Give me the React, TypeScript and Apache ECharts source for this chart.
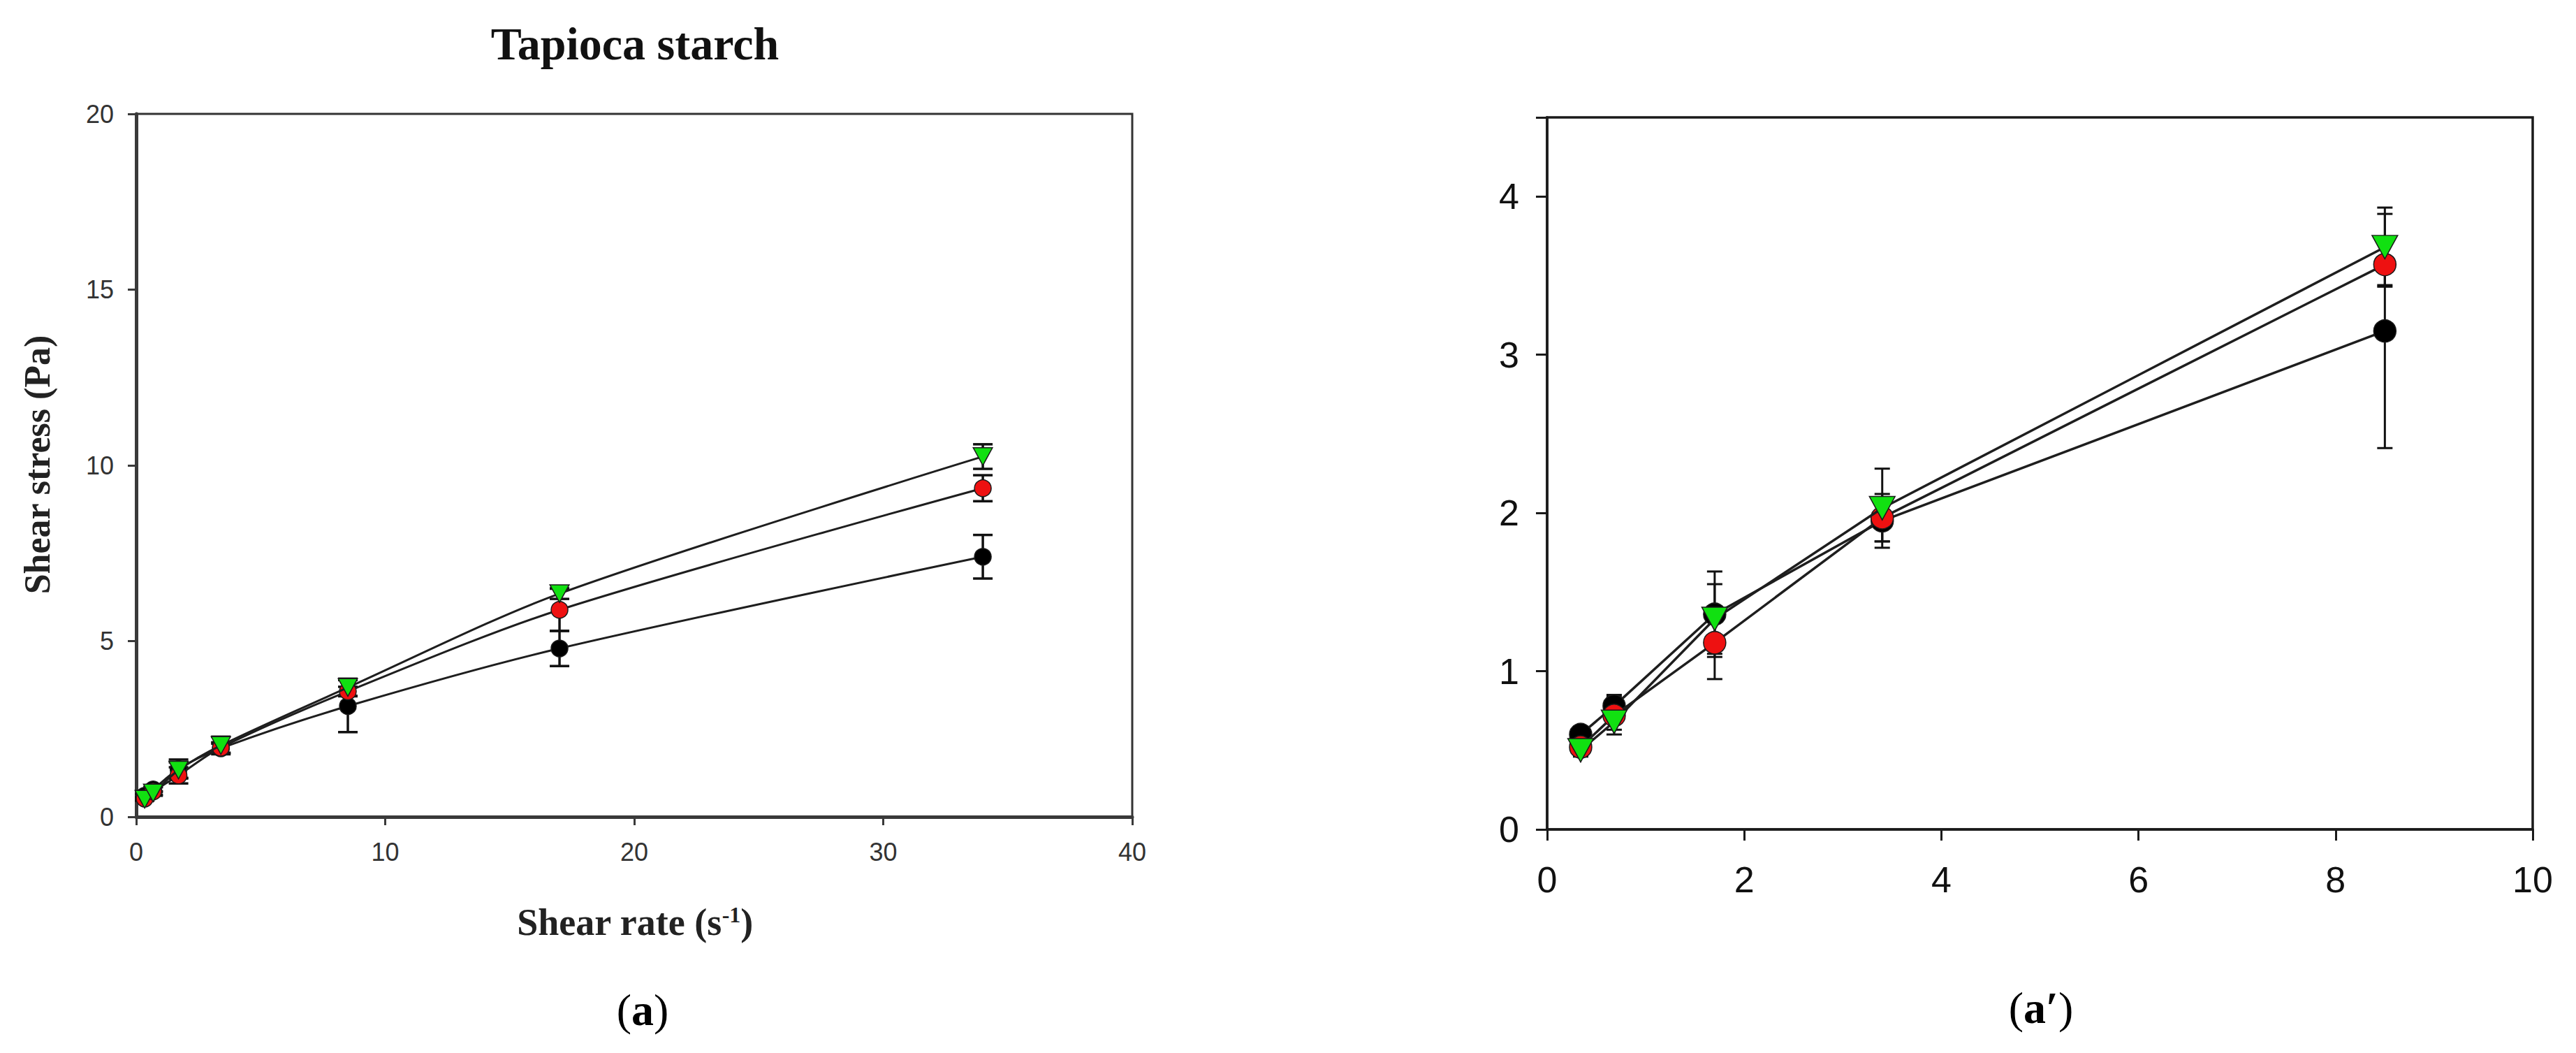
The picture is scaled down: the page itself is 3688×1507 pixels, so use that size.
import React, { useEffect, useRef } from "react";
import * as echarts from "echarts";

// Shear rate (s^-1)
const shearRate = [0.34, 0.68, 1.7, 3.4, 8.5, 17, 34];
// Shear stress (Pa) — three samples (black, red, green)
const stressBlack = [0.6, 0.78, 1.36, 1.95, 3.15, 4.79, 7.4];
const stressRed = [0.52, 0.72, 1.18, 1.97, 3.57, 5.89, 9.35];
const stressGreen = [0.5, 0.68, 1.33, 2.03, 3.68, 6.35, 10.25];
// Error bars (± Pa)
const errBlack = [0.05, 0.07, 0.27, 0.13, 0.74, 0.5, 0.62];
const errRed = [0.05, 0.12, 0.23, 0.15, 0.13, 0.6, 0.37];
const errGreen = [0.04, 0.05, 0.22, 0.25, 0.25, 0.15, 0.35];

// Axis ticks
const leftXTicks = { min: 0, max: 40, interval: 10 };
const leftYTicks = { min: 0, max: 20, interval: 5 };
const rightXTicks = { min: 0, max: 10, interval: 2 };
const rightYTicks = { min: 0, max: 4.5, interval: 1 };

const titleText = "Tapioca starch";
const xTitle = "Shear rate (s{sup|-1})";
const yTitle = "Shear stress (Pa)";

const SERIF = "'Liberation Serif', 'Times New Roman', serif";
const SANS = "'Liberation Sans', Arial, sans-serif";

type Sample = { ys: number[]; errs: number[]; color: string; symbol: string; size: any; rotate: number };
const samples: Sample[] = [
  { ys: stressBlack, errs: errBlack, color: "#000000", symbol: "circle", size: 0, rotate: 0 },
  { ys: stressRed, errs: errRed, color: "#ee1111", symbol: "circle", size: 0, rotate: 0 },
  { ys: stressGreen, errs: errGreen, color: "#11e011", symbol: "triangle", size: 0, rotate: 180 },
];

function buildSeries(gridIdx: number, xMax: number, marker: number, lineW: number, capHalf: number, smooth: number | boolean) {
  const idx = shearRate.map((_, i) => i).filter((i) => shearRate[i] <= xMax);
  const out: any[] = [];
  samples.forEach((s, k) => {
    out.push({
      type: "custom",
      xAxisIndex: gridIdx,
      yAxisIndex: gridIdx,
      z: 2,
      encode: { x: 0, y: 1 },
      data: idx.map((i) => [shearRate[i], s.ys[i], s.errs[i]]),
      renderItem: (params: any, api: any) => {
        const x = api.value(0);
        const y = api.value(1);
        const e = api.value(2);
        const t = api.coord([x, y + e]);
        const b = api.coord([x, y - e]);
        const st = { stroke: "#111", lineWidth: gridIdx === 0 ? 3.5 : 3 };
        return {
          type: "group",
          children: [
            { type: "line", shape: { x1: t[0], y1: t[1], x2: b[0], y2: b[1] }, style: st },
            { type: "line", shape: { x1: t[0] - capHalf, y1: t[1], x2: t[0] + capHalf, y2: t[1] }, style: st },
            { type: "line", shape: { x1: b[0] - capHalf, y1: b[1], x2: b[0] + capHalf, y2: b[1] }, style: st },
          ],
        };
      },
    });
    const isTri = s.symbol === "triangle";
    out.push({
      type: "line",
      xAxisIndex: gridIdx,
      yAxisIndex: gridIdx,
      z: 3 + k,
      smooth,
      data: idx.map((i) => [shearRate[i], s.ys[i]]),
      symbol: s.symbol,
      symbolRotate: s.rotate,
      symbolSize: isTri ? [marker * 1.15, marker * 1.05] : marker,
      itemStyle: { color: s.color, borderColor: "#1a1a1a", borderWidth: 1.5 },
      lineStyle: { color: "#1e1e1e", width: lineW },
    });
  });
  return out;
}

function axisCommon(fontSize: number, margin: number, color: string, lineW: number, tickLen: number, lineColor: string) {
  return {
    axisLine: { show: true, onZero: false, lineStyle: { color: lineColor, width: lineW } },
    axisTick: { show: true, inside: false, length: tickLen, lineStyle: { color: lineColor, width: 3 } },
    axisLabel: {
      fontSize,
      margin,
      color,
      fontFamily: SANS,
      formatter: (v: number) => (Number.isInteger(v) ? String(v) : ""),
    },
    splitLine: { show: false },
  };
}

const option: any = {
  animation: false,
  backgroundColor: "#ffffff",
  grid: [
    { left: 195, top: 163, width: 1426, height: 1006, show: true, borderColor: "#333", borderWidth: 3, backgroundColor: "transparent" },
    { left: 2215, top: 168, width: 1411, height: 1019, show: true, borderColor: "#1a1a1a", borderWidth: 3.5, backgroundColor: "transparent" },
  ],
  xAxis: [
    { type: "value", gridIndex: 0, ...leftXTicks, ...axisCommon(36, 32, "#333", 5, 12, "#3a3a3a") },
    { type: "value", gridIndex: 1, ...rightXTicks, ...axisCommon(52, 46, "#111", 3.5, 16, "#1a1a1a") },
  ],
  yAxis: [
    { type: "value", gridIndex: 0, ...leftYTicks, ...axisCommon(36, 32, "#333", 5, 12, "#3a3a3a") },
    { type: "value", gridIndex: 1, ...rightYTicks, ...axisCommon(52, 40, "#111", 3.5, 16, "#1a1a1a") },
  ],
  series: [...buildSeries(0, 40, 24, 3, 14, 0.3), ...buildSeries(1, 10, 32, 3.5, 11, false)],
  graphic: [
    {
      type: "text",
      x: 909,
      y: 62,
      style: {
        text: titleText,
        fill: "#111",
        font: `bold 66px ${SERIF}`,
        textAlign: "center",
        textVerticalAlign: "middle",
        align: "center",
        verticalAlign: "middle",
      },
    },
    {
      type: "text",
      x: 909,
      y: 1320,
      style: {
        text: xTitle,
        fill: "#222",
        font: `bold 54px ${SERIF}`,
        textAlign: "center",
        textVerticalAlign: "middle",
        align: "center",
        verticalAlign: "middle",
        rich: {
          sup: { fontSize: 32, fontWeight: "bold", fontFamily: SERIF, verticalAlign: "top", fill: "#222" },
        },
      },
    },
    {
      type: "text",
      x: 53,
      y: 665,
      rotation: Math.PI / 2,
      style: {
        text: yTitle,
        fill: "#222",
        font: `bold 52px ${SERIF}`,
        textAlign: "center",
        textVerticalAlign: "middle",
        align: "center",
        verticalAlign: "middle",
      },
    },
    {
      type: "text",
      x: 920,
      y: 1445,
      style: {
        text: "({b|a})",
        fill: "#000",
        font: `64px ${SERIF}`,
        textAlign: "center",
        textVerticalAlign: "middle",
        align: "center",
        verticalAlign: "middle",
        rich: { b: { fontSize: 64, fontWeight: "bold", fontFamily: SERIF, fill: "#000" } },
      },
    },
    {
      type: "text",
      x: 2922,
      y: 1442,
      style: {
        text: "({b|a′})",
        fill: "#000",
        font: `64px ${SERIF}`,
        textAlign: "center",
        textVerticalAlign: "middle",
        align: "center",
        verticalAlign: "middle",
        rich: { b: { fontSize: 64, fontWeight: "bold", fontFamily: SERIF, fill: "#000" } },
      },
    },
  ],
};

export default function App() {
  const ref = useRef<HTMLDivElement>(null);
  useEffect(() => {
    const chart = echarts.init(ref.current as HTMLDivElement, null, { renderer: "svg" });
    chart.setOption(option);
    return () => chart.dispose();
  }, []);
  return (
    <div
      ref={ref}
      style={{ position: "fixed", left: 0, top: 0, width: 3688, height: 1507, background: "#fff" }}
    />
  );
}
